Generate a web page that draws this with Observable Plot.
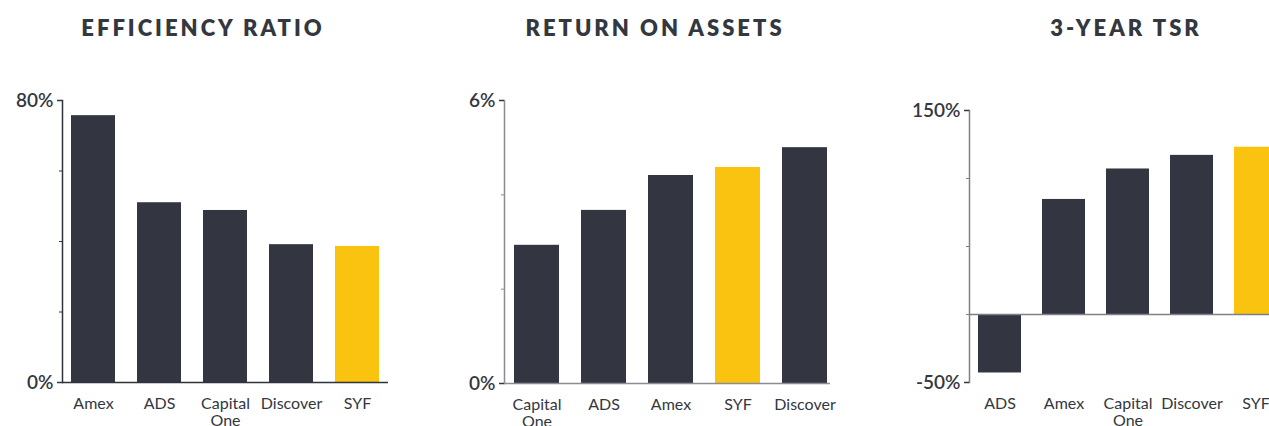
<!DOCTYPE html>
<html>
<head>
<meta charset="utf-8">
<script src="https://cdn.jsdelivr.net/npm/d3@7"></script>
<script src="https://cdn.jsdelivr.net/npm/@observablehq/plot@0.6"></script>
<style>
  html, body { margin: 0; padding: 0; background: #fff; }
  body { width: 1269px; height: 426px; overflow: hidden; position: relative; font-family: Lato, "Open Sans", sans-serif; }
  .title { position: absolute; top: 14px; width: 400px; text-align: center; font-family: Lato, sans-serif; font-weight: 800; font-size: 22px; letter-spacing: 3px; color: #333740; }
  .panel { position: absolute; top: 80px; width: 420px; }
  .panel svg { max-width: none !important; }
</style>
</head>
<body>
<div class="title" style="left:3px">EFFICIENCY RATIO</div>
<div class="title" style="left:455px">RETURN ON ASSETS</div>
<div class="title" style="left:926px">3-YEAR TSR</div>
<div class="panel" id="p1" style="left:0px"></div>
<div class="panel" id="p2" style="left:430px"></div>
<div class="panel" id="p3" style="left:880px"></div>
<script>
// Efficiency ratio (%)
const effCats = ["Amex", "ADS", "Capital One", "Discover", "SYF"];
const effVals = [75.7, 51, 48.8, 39.1, 38.6];
const effTicks = [0, 20, 40, 60, 80];

// Return on assets (%)
const roaCats = ["Capital One", "ADS", "Amex", "SYF", "Discover"];
const roaVals = [2.93, 3.67, 4.41, 4.58, 5.0];
const roaTicks = [0, 2, 4, 6];

// 3-year TSR (%)
const tsrCats = ["ADS", "Amex", "Capital One", "Discover", "SYF"];
const tsrVals = [-43, 84.6, 107, 117, 123];
const tsrTicks = [-50, 0, 50, 100, 150];

const highlight = "SYF";
const DARK = "#333640";
const YELLOW = "#F9C30F";
const TEXT = "#333740";

function panel(el, cats, vals, ticks, cfg) {
  const data = cats.map((c, i) => ({cat: c, val: vals[i]}));
  const lo = ticks[0], hi = ticks[ticks.length - 1];
  const chart = Plot.plot({
    width: 420,
    height: 346,
    marginLeft: cfg.ml,
    marginRight: cfg.mr,
    marginTop: cfg.mt,
    marginBottom: cfg.mb,
    style: {fontFamily: "Lato, 'Open Sans', sans-serif", color: TEXT, background: "transparent", overflow: "visible", maxWidth: "none"},
    x: {domain: cats, range: cfg.xr, paddingInner: 0.33, paddingOuter: 0, label: null},
    y: {domain: [lo, hi], label: null},
    color: {type: "identity"},
    marks: [
      Plot.barY(data, {x: "cat", y: "val", fill: d => d.cat === highlight ? YELLOW : DARK}),
      Plot.ruleY([0], {stroke: cfg.line, strokeWidth: 1.5}),
      Plot.frame({anchor: "left", stroke: cfg.line, strokeWidth: 1.5}),
      Plot.axisY({ticks: ticks, tickSize: 3, tickFormat: () => "", stroke: cfg.line}),
      Plot.axisY({ticks: [lo, hi], tickSize: 5, tickPadding: 4, tickFormat: d => d + "%", fontSize: 19, fontWeight: 600, fill: TEXT, stroke: TEXT, strokeWidth: 1.5}),
      Plot.axisX({tickSize: 0, tickPadding: 15, fontSize: 16, lineHeight: 1.05, fill: TEXT, tickFormat: d => d.replace(" ", "\n")})
    ]
  });
  document.getElementById(el).appendChild(chart);
}

panel("p1", effCats, effVals, effTicks, {ml: 62, mr: 32, mt: 20, mb: 44, xr: [69, 381], line: "#2f333b"});
panel("p2", roaCats, roaVals, roaTicks, {ml: 74, mr: 20, mt: 20, mb: 43, xr: [82, 399], line: "#8a8d93"});
panel("p3", tsrCats, tsrVals, tsrTicks, {ml: 89, mr: 15, mt: 30, mb: 44, xr: [97, 397], line: "#7d8087"});
</script>
</body>
</html>
